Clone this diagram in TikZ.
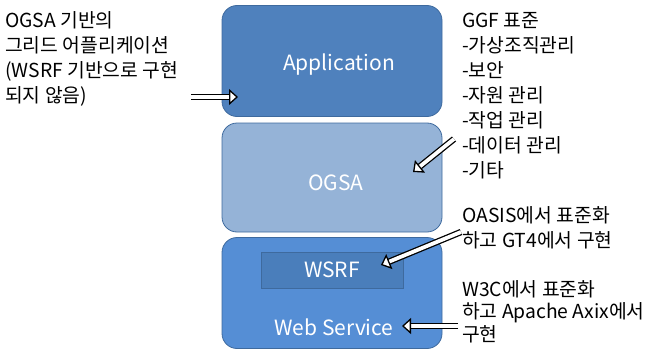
\documentclass[tikz,border=0pt]{standalone}
\usepackage{fontspec}
\setmainfont{Noto Sans CJK KR}
\usetikzlibrary{arrows.meta, positioning}
\definecolor{appBlue}{HTML}{4F81BD}
\definecolor{ogsaBlue}{HTML}{95B3D7}
\definecolor{wsBlue}{HTML}{558ED5}
\definecolor{wsrfBlue}{HTML}{4A7EBB}
\definecolor{edgeBlue}{HTML}{3E6A9E}
\tikzstyle{layer}=[draw=edgeBlue, line width=0.8pt, rounded corners=15pt, minimum width=220pt, minimum height=111pt, inner sep=0pt]
\tikzstyle{layerText}=[text=white, font=\fontsize{21}{25}\selectfont]
\tikzstyle{note}=[anchor=north west, align=left, inner sep=0pt, font=\fontsize{19.3}{25}\selectfont]
\tikzstyle{hollowArrow}=[draw=black, line width=1.3pt, double=white, double distance=3.8pt, -{Triangle[open, fill=white, line width=1.3pt, length=9pt, width=16pt]}]

\begin{document}
\begin{tikzpicture}[x=1pt, y=-1pt]
    \useasboundingbox (0, 0) rectangle (662, 356);

    % protocol stack
    \node (app)[layer, fill=appBlue] at (332, 61) {};
    \node (ogsa)[layer, fill=ogsaBlue, minimum height=109pt] at (332, 177.5) {};
    \node (ws)[layer, fill=wsBlue] at (332, 293) {};
    \node (wsrf)[draw=edgeBlue, line width=0.8pt, fill=wsrfBlue, minimum width=142pt, minimum height=36pt] at (332, 270) {};

    \node (appLabel)[layerText] at (339, 65) {Application};
    \node (ogsaLabel)[layerText] at (336, 183) {OGSA};
    \node (wsrfLabel)[layerText] at (332, 270) {WSRF};
    \node (wsLabel)[layerText] at (334, 327) {Web Service};

    % notes
    \node (appNote)[note] at (5, 11) {OGSA 기반의\\그리드 어플리케이션\\(WSRF 기반으로 구현\\되지 않음)};
    \node (ggfNote)[note] at (462, 12) {GGF 표준\\-가상조직관리\\-보안\\-자원 관리\\-작업 관리\\-데이터 관리\\-기타};
    \node (oasisNote)[note] at (462, 206) {OASIS에서 표준화\\하고 GT4에서 구현};
    \node (w3cNote)[note, font=\fontsize{19.3}{22.5}\selectfont] at (462, 280) {W3C에서 표준화\\하고 Apache Axix에서\\구현};

    % arrow ends
    \coordinate (appTail) at (191, 97);
    \coordinate (appTip) at (238, 97);
    \coordinate (ogsaTail) at (454, 139);
    \coordinate (ogsaTip) at (413, 172);
    \coordinate (wsrfTail) at (461, 232);
    \coordinate (wsrfTip) at (381, 265);
    \coordinate (wsTail) at (458, 326);
    \coordinate (wsTip) at (402, 326);

    \draw[hollowArrow] (appTail) -- (appTip);
    \draw[hollowArrow] (ogsaTail) -- (ogsaTip);
    \draw[hollowArrow] (wsrfTail) -- (wsrfTip);
    \draw[hollowArrow] (wsTail) -- (wsTip);

\end{tikzpicture}
\end{document}
